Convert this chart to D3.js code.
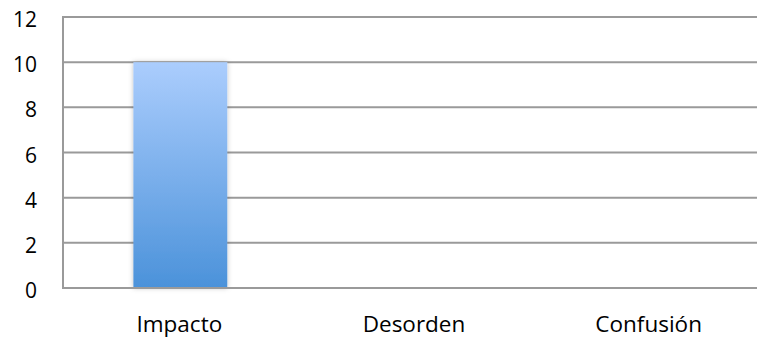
<!DOCTYPE html>
<html><head><meta charset="utf-8">
<script src="https://cdn.jsdelivr.net/npm/d3@7"></script>
<style>body{margin:0;background:#fff}svg{display:block}text{font-family:"Open Sans","Liberation Sans",sans-serif;fill:#000}</style>
</head><body><svg id="c" width="757" height="339"></svg>
<script>
const categories = ["Impacto","Desorden","Confusión"];
const values = [10,0,0];
const yTicks = [0,2,4,6,8,10,12];

const svg = d3.select("#c");
const m = {l:63, t:17, b:51};
const W = 757, H = 339;
const x = d3.scaleBand().domain(categories).range([m.l, 767]).paddingInner(0.6).paddingOuter(0.3);
const y = d3.scaleLinear().domain([0,12]).range([H-m.b, m.t]);

const defs = svg.append("defs");
const g = defs.append("linearGradient").attr("id","bg").attr("x1",0).attr("y1",0).attr("x2",0).attr("y2",1);
g.append("stop").attr("offset","0%").attr("stop-color","#abcdfd");
g.append("stop").attr("offset","100%").attr("stop-color","#4b92da");
const f = defs.append("filter").attr("id","sh").attr("x","-20%").attr("y","-5%").attr("width","140%").attr("height","110%");
f.append("feDropShadow").attr("dx",0).attr("dy",0).attr("stdDeviation",2.5).attr("flood-color","#000").attr("flood-opacity",0.25);

// gridlines
svg.append("g").selectAll("line").data(yTicks.filter(d=>d>0)).join("line")
  .attr("x1",m.l).attr("x2",W).attr("y1",d=>y(d)).attr("y2",d=>y(d))
  .attr("stroke","#9a9a9a").attr("stroke-width",2);

// bars
svg.append("g").selectAll("rect").data(categories.map((c,i)=>({c,v:values[i]})).filter(d=>d.v>0)).join("rect")
  .attr("x",d=>x(d.c)).attr("width",x.bandwidth())
  .attr("y",d=>y(d.v)).attr("height",d=>y(0)-y(d.v))
  .attr("fill","url(#bg)").attr("filter","url(#sh)");

// axes lines
svg.append("line").attr("x1",m.l).attr("x2",m.l).attr("y1",y(12)-1).attr("y2",y(0)+1).attr("stroke","#9a9a9a").attr("stroke-width",2);
svg.append("line").attr("x1",m.l-1).attr("x2",W).attr("y1",y(0)).attr("y2",y(0)).attr("stroke","#9a9a9a").attr("stroke-width",2);

// y labels
svg.append("g").selectAll("text").data(yTicks).join("text")
  .attr("x",37).attr("y",d=>y(d)+10).attr("text-anchor","end")
  .attr("font-size",21).text(d=>d);

// x labels
svg.append("g").selectAll("text").data(categories).join("text")
  .attr("x",d=>x(d)+x.bandwidth()/2 - 1).attr("y",332).attr("text-anchor","middle")
  .attr("font-size",22.5).text(d=>d);
</script></body></html>
